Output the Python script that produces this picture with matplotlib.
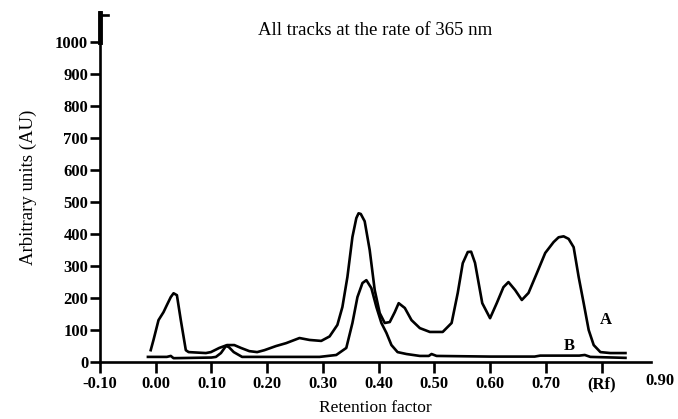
import numpy as np
import matplotlib
matplotlib.use("Agg")
import matplotlib.pyplot as plt

plt.rcParams["font.family"] = ["Liberation Serif", "DejaVu Serif"]

# Track A (Rf, AU)
rf_a = [-0.009, -0.004, 0.005, 0.014, 0.020, 0.027, 0.032, 0.038, 0.045, 0.054,
        0.059, 0.090, 0.099, 0.114, 0.128, 0.141, 0.153, 0.168, 0.182, 0.195,
        0.216, 0.234, 0.258, 0.276, 0.297, 0.312, 0.326, 0.335, 0.344, 0.353,
        0.360, 0.364, 0.368, 0.375, 0.384, 0.393, 0.402, 0.411, 0.420, 0.429, 0.436,
        0.447, 0.459, 0.474, 0.492, 0.515, 0.531, 0.542, 0.551, 0.560, 0.566, 0.573,
        0.586, 0.600, 0.612, 0.624, 0.633, 0.645, 0.657, 0.669, 0.684, 0.699,
        0.714, 0.723, 0.732, 0.741, 0.750, 0.759, 0.768, 0.777, 0.786, 0.798, 0.816,
        0.843]
au_a = [37, 69, 131, 156, 178, 203, 215, 209, 131, 37,
        31, 28, 31, 44, 53, 53, 44, 34, 31, 37,
        50, 59, 75, 69, 66, 80, 116, 172, 266, 391,
        450, 465, 463, 440, 350, 225, 153, 122, 125, 156, 184,
        169, 131, 106, 94, 94, 122, 216, 309, 344, 345, 310,
        184, 137, 184, 234, 250, 225, 194, 216, 278, 341,
        375, 390, 393, 385, 359, 266, 184, 100, 53, 31, 28,
        28]

# Track B
rf_b = [-0.014, 0.020, 0.027, 0.032, 0.100, 0.108, 0.117, 0.126, 0.131, 0.140,
        0.155, 0.173, 0.294, 0.324, 0.342, 0.353, 0.362, 0.371, 0.378, 0.387,
        0.396, 0.405, 0.414, 0.423, 0.434, 0.450, 0.474, 0.490, 0.495, 0.504,
        0.600, 0.680, 0.690, 0.760, 0.770, 0.780, 0.843]
au_b = [16, 16, 19, 12, 14, 16, 28, 50, 47, 31,
        16, 16, 16, 22, 44, 122, 203, 247, 256, 231,
        172, 122, 91, 53, 31, 25, 19, 19, 25, 19,
        17, 17, 20, 20, 22, 16, 13]

xticks = [-0.10, 0.00, 0.10, 0.20, 0.30, 0.40, 0.50, 0.60, 0.70, 0.80]
xticklabels = ["-0.10", "0.00", "0.10", "0.20", "0.30", "0.40", "0.50", "0.60", "0.70", "(Rf)"]
yticks = list(range(0, 1001, 100))

fig = plt.figure(figsize=(6.78, 4.19), dpi=100)
ax = fig.add_axes([0.1475, 0.136, 0.812, 0.835])

ax.plot(rf_a, au_a, color="black", lw=1.9, solid_joinstyle="round")
ax.plot(rf_b, au_b, color="black", lw=1.9, solid_joinstyle="round")

ax.text(0.797, 118, "A", fontsize=12, fontweight="bold")
ax.text(0.733, 38, "B", fontsize=12, fontweight="bold")

ax.set_xlim(-0.10, 0.888)
ax.set_ylim(0, 1094)
ax.set_xticks(xticks)
ax.set_xticklabels(xticklabels)
ax.set_yticks(yticks)
ax.text(0.905, -0.03, "0.90", transform=ax.get_xaxis_transform(), ha="center", va="top",
        fontsize=12, fontweight="bold", clip_on=False)

for s in ["top", "right"]:
    ax.spines[s].set_visible(False)
for s in ["left", "bottom"]:
    ax.spines[s].set_linewidth(1.9)

ax.tick_params(axis="x", direction="out", length=8, width=1.9, labelsize=12, pad=2)
ax.tick_params(axis="y", direction="out", length=7, width=1.9, labelsize=12, pad=1.5)
for lab in ax.get_xticklabels() + ax.get_yticklabels():
    lab.set_fontweight("bold")

# broken-axis mark at the top of the y axis
ax.plot([-0.10, -0.10], [1000, 1090], color="black", lw=3.5, clip_on=False)
ax.plot([-0.10, -0.086], [1084, 1084], color="black", lw=1.9, clip_on=False)

ax.set_xlabel("Retention factor", fontsize=12.5, labelpad=6)
ax.set_ylabel("Arbitrary units (AU)", fontsize=13.5, labelpad=13)
ax.text(0.393, 1022, "All tracks at the rate of 365 nm", ha="center", fontsize=13.5)

fig.savefig("out.png", dpi=100)
